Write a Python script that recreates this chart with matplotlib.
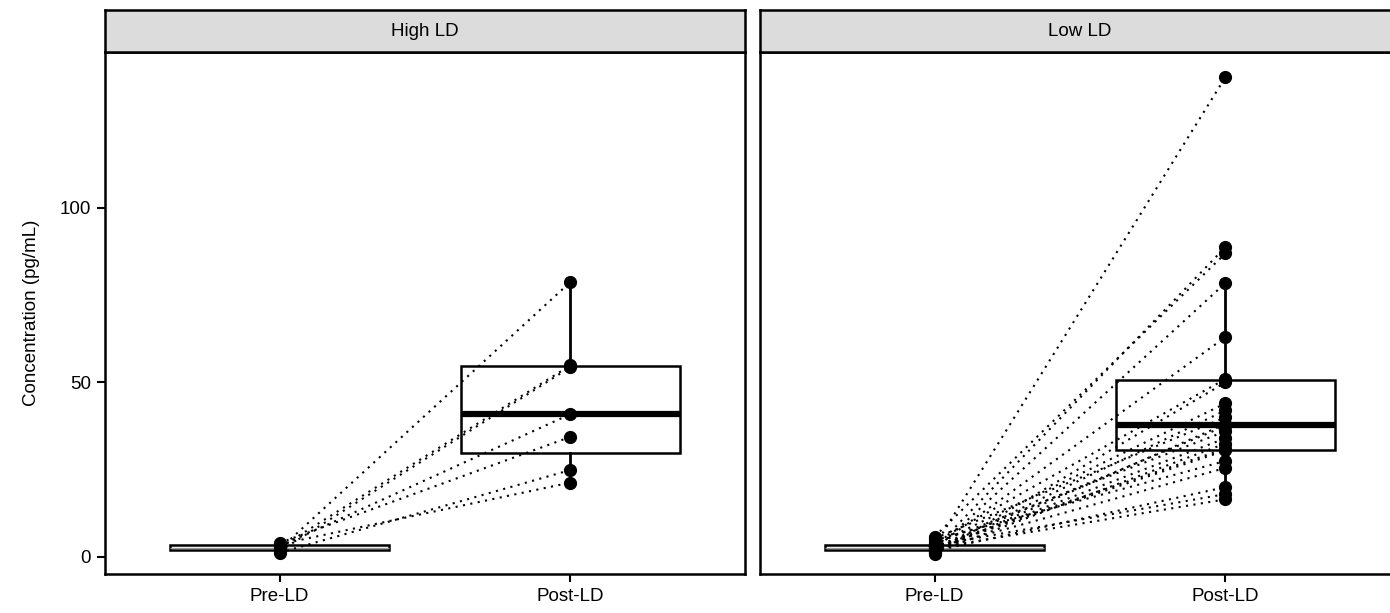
import numpy as np
import matplotlib.pyplot as plt

plt.rcParams['font.family'] = ['Liberation Sans', 'DejaVu Sans']

groups = ['High LD', 'Low LD']
timepoints = ['Pre-LD', 'Post-LD']

# paired measurements per subject (pg/mL)
high_pre = [2.2, 1.6, 3.0, 2.6, 4.0, 1.2, 3.6]
high_post = [78.8, 54.4, 40.9, 54.9, 34.4, 24.9, 21.3]

low_pre = [3.1, 2.4, 5.8, 1.9, 2.7, 4.2, 0.8, 3.5, 2.0, 5.3, 1.5, 2.8,
           3.8, 2.1, 1.2, 3.0, 2.6, 4.8, 2.3, 1.7, 3.3, 2.5]
low_post = [137.5, 88.8, 87.0, 78.5, 63.0, 51.0, 50.0, 44.0, 42.0, 40.0, 38.1,
            37.5, 36.0, 34.0, 32.5, 31.0, 30.5, 27.5, 25.5, 20.0, 18.0, 16.5]

data = {'High LD': (high_pre, high_post), 'Low LD': (low_pre, low_post)}

fig = plt.figure(figsize=(13.9, 6.13), dpi=100)
W, H = 1390, 613

panels = [(105, 640), (760, 640)]
top, bottom = 52, 574
strip_top = 10

for i, (g, (x0, w)) in enumerate(zip(groups, panels)):
    ax = fig.add_axes([x0 / W, (H - bottom) / H, w / W, (bottom - top) / H])
    pre, post = data[g]

    bp = ax.boxplot([pre, post], positions=[1, 2], widths=0.75, whis=1.5,
                    showfliers=False, showcaps=False, patch_artist=True,
                    boxprops=dict(facecolor='white', edgecolor='black', linewidth=1.8),
                    whiskerprops=dict(color='black', linewidth=2.0),
                    medianprops=dict(color='black', linewidth=4.5),
                    zorder=1)
    # the pre-LD box is only a few pixels tall; keep its median thin
    bp['medians'][0].set_linewidth(1.0)
    bp['medians'][0].set_color('#9a9a9a')

    for a, b in zip(pre, post):
        ax.plot([1, 2], [a, b], color='black', linestyle=(0, (1, 2.6)),
                linewidth=1.5, zorder=2)

    ax.scatter(np.ones(len(pre)), pre, s=72, color='black', zorder=3)
    ax.scatter(np.full(len(post), 2), post, s=72, color='black', zorder=3)

    ax.set_xlim(0.4, 2.6)
    ax.set_ylim(-4.9, 144.7)
    ax.set_xticks([1, 2])
    ax.set_xticklabels(timepoints, fontsize=13.5)
    ax.set_yticks([0, 50, 100])
    ax.tick_params(direction='out', length=6, width=1.5, pad=4, labelsize=13.5)
    for sp in ax.spines.values():
        sp.set_linewidth(1.8)
    if i == 0:
        ax.set_ylabel('Concentration (pg/mL)', fontsize=13.5, labelpad=14)
    else:
        ax.tick_params(axis='y', left=False, labelleft=False)

    # facet strip
    sax = fig.add_axes([x0 / W, (H - top) / H, w / W, (top - strip_top) / H])
    sax.set_facecolor('#dcdcdd')
    sax.set_xticks([])
    sax.set_yticks([])
    for sp in sax.spines.values():
        sp.set_linewidth(1.8)
    sax.text(0.5, 0.5, g, ha='center', va='center', fontsize=13.5,
             transform=sax.transAxes)

fig.savefig('out.png', dpi=100)
